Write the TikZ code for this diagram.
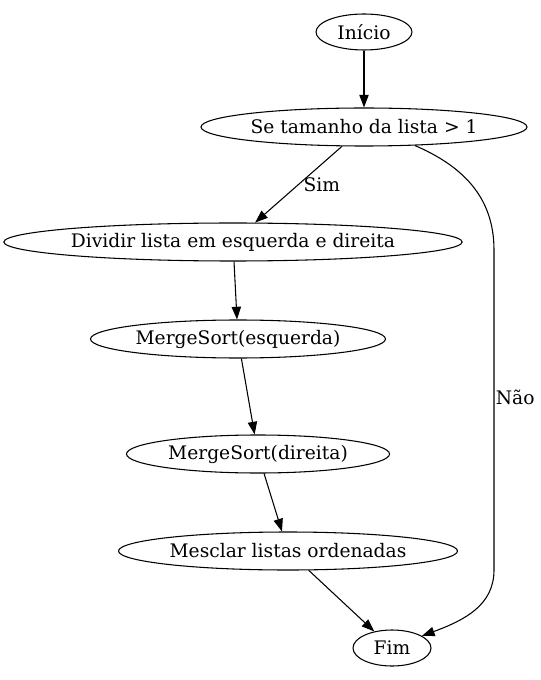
\documentclass[tikz,border=0pt]{standalone}
\usepackage{fontspec}
\setmainfont{DejaVu Serif}
\usetikzlibrary{shapes.geometric,arrows.meta}

\begin{document}
\begin{tikzpicture}[x=0.75pt,y=-0.75pt,font=\fontsize{14pt}{16pt}\selectfont,
  gv/.style={ellipse,draw,inner sep=0pt,minimum height=28.5pt,line width=0.8pt},
  seta/.style={-{Triangle[length=9.5pt,width=7pt]},line width=0.8pt}]
\useasboundingbox (0,0) rectangle (540,680);
\node[gv,minimum width=72pt,minimum height=27pt] (ini) at (364,32) {Início};
\node[gv,minimum width=244.5pt] (se) at (364,127) {Se tamanho da lista > 1};
\node[gv,minimum width=340.5pt] (div) at (233,242) {Dividir lista em esquerda e direita};
\node[gv,minimum width=221.25pt] (esq) at (238,339) {MergeSort(esquerda)};
\node[gv,minimum width=197.25pt] (dir) at (258,454) {MergeSort(direita)};
\node[gv,minimum width=254.25pt] (mes) at (288,551) {Mesclar listas ordenadas};
\node[gv,minimum width=58.5pt,minimum height=27pt] (fim) at (392,648) {Fim};
\coordinate (nao1) at (494,250);
\coordinate (nao2) at (494,570);
\foreach \a/\b in {ini/se, div/esq, esq/dir, dir/mes, mes/fim} \draw[seta] (\a) -- (\b);
\draw[seta] (se) -- node[pos=0.5,right] {Sim} (div);
\draw[seta] (se.-20) .. controls (460,165) and (494,195) .. (nao1) -- node[pos=0.46,right,inner sep=1pt] {Não} (nao2) .. controls (494,605) and (465,620) .. (fim.22);
\end{tikzpicture}
\end{document}
